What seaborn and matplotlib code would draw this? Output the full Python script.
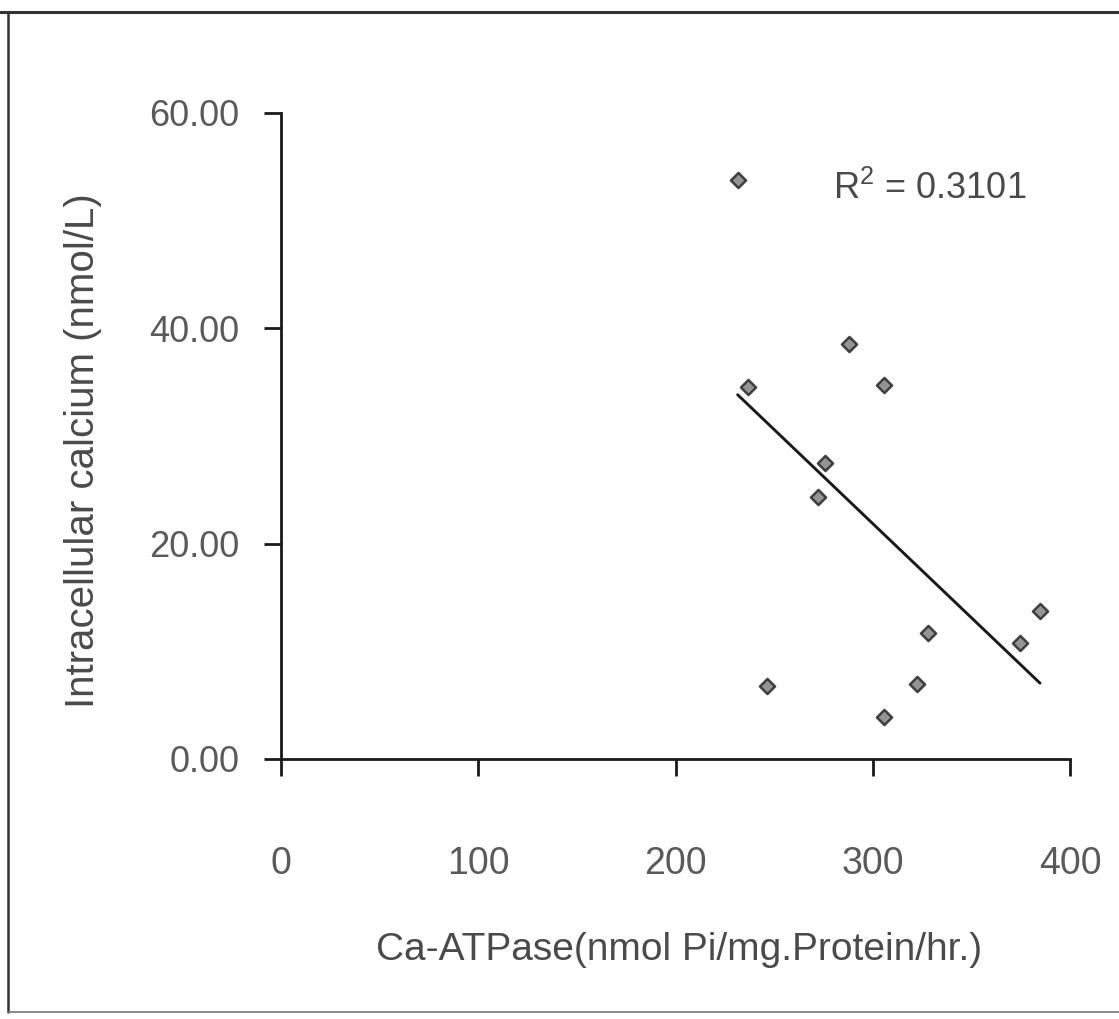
import matplotlib
matplotlib.use("Agg")
import matplotlib.pyplot as plt
import seaborn as sns
import pandas as pd
from matplotlib.lines import Line2D

# Data
ca_atpase = [231.5, 236.9, 246.2, 272.1, 275.8, 288.0, 305.7, 305.9, 322.6, 327.9, 374.6, 384.8]
intracellular_ca = [53.8, 34.55, 6.8, 24.3, 27.5, 38.5, 34.7, 3.9, 7.0, 11.7, 10.8, 13.7]
x_ticks = [0, 100, 200, 300, 400]
y_ticks = [0, 20, 40, 60]
y_tick_labels = ["0.00", "20.00", "40.00", "60.00"]
r2_text = "R$^{2}$ = 0.3101"
x_label = "Ca-ATPase(nmol Pi/mg.Protein/hr.)"
y_label = "Intracellular calcium (nmol/L)"

sns.set_theme(style="white")
plt.rcParams["font.family"] = ["Liberation Sans", "DejaVu Sans"]
plt.rcParams["mathtext.fontset"] = "custom"
plt.rcParams["mathtext.rm"] = "Liberation Sans"
plt.rcParams["mathtext.it"] = "Liberation Sans"

df = pd.DataFrame({"x": ca_atpase, "y": intracellular_ca})

W, H = 1119, 1019
fig = plt.figure(figsize=(W / 100, H / 100), dpi=100)
fig.patch.set_facecolor("white")
ax = fig.add_axes([281 / W, 1 - 759 / H, (1070 - 281) / W, (759 - 113) / H])

sns.regplot(data=df, x="x", y="y", ax=ax, ci=None, truncate=True, marker="D",
            scatter_kws=dict(s=60, facecolor="#7a7a7a",
                             edgecolor="#1e1e1e", linewidths=1.8, zorder=3),
            line_kws=dict(color="#1a1a1a", lw=2.1, zorder=2))

ax.set_xlim(0, 400)
ax.set_ylim(0, 60)
ax.set_xticks(x_ticks)
ax.set_yticks(y_ticks)
ax.set_yticklabels(y_tick_labels)
for s in ["top", "right"]:
    ax.spines[s].set_visible(False)
for s in ["left", "bottom"]:
    ax.spines[s].set_color("#1a1a1a")
    ax.spines[s].set_linewidth(2.0)
ax.tick_params(axis="both", which="major", direction="out", color="#1a1a1a",
               bottom=True, left=True, width=2.0, length=12, labelcolor="#5a5a5a")
ax.tick_params(axis="x", pad=51, labelsize=27)
ax.tick_params(axis="y", pad=18, labelsize=26)
ax.set_xlabel(x_label, fontsize=28, color="#4a4a4a")
ax.set_ylabel(y_label, fontsize=29, color="#4a4a4a")
ax.xaxis.set_label_coords(0.505, -(932 - 759) / (759 - 113))
ax.yaxis.set_label_coords((102 - 281) / (1070 - 281), 0.478)

ax.text(0.70, 0.882, r2_text, transform=ax.transAxes, fontsize=26,
        color="#4a4a4a", ha="left", va="center")

# scanned frame around the figure
fig.add_artist(Line2D([0, 1], [1 - 12 / H, 1 - 12 / H], transform=fig.transFigure,
                      color="#333333", lw=2.2))
fig.add_artist(Line2D([8 / W, 8 / W], [1 - 12 / H, 1 - 1012 / H], transform=fig.transFigure,
                      color="#333333", lw=1.8))
fig.add_artist(Line2D([8 / W, 1], [1 - 1012 / H, 1 - 1012 / H], transform=fig.transFigure,
                      color="#777777", lw=1.2))

fig.savefig("out.png", dpi=100, facecolor="white")
